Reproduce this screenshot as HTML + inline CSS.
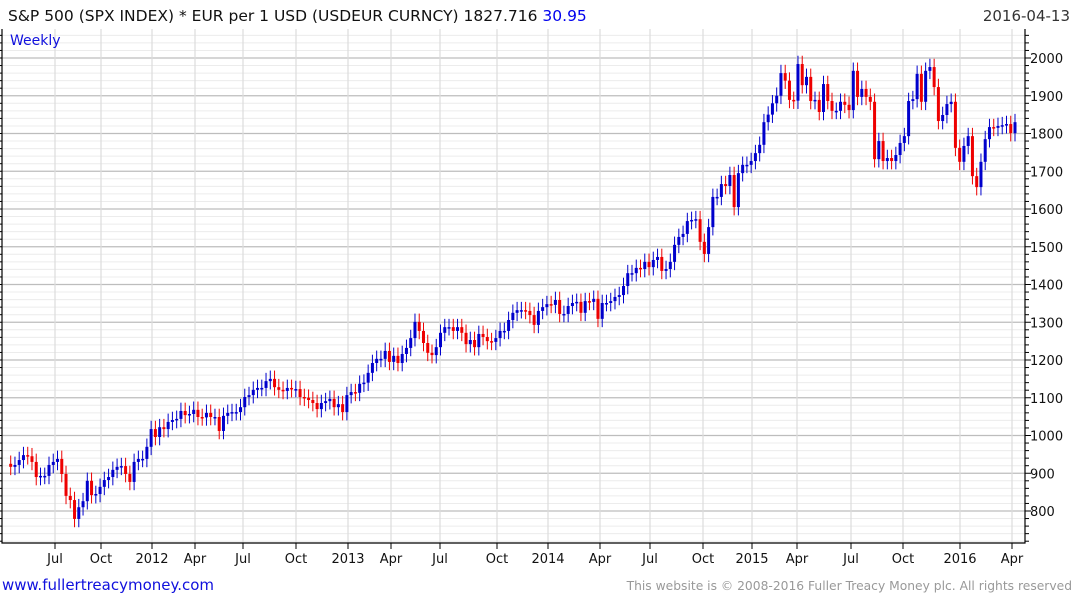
<!DOCTYPE html>
<html><head><meta charset="utf-8">
<style>
html,body{margin:0;padding:0;background:#fff;}
body{width:1075px;height:600px;overflow:hidden;font-family:"DejaVu Sans","Liberation Sans",sans-serif;}
svg text{font-family:"DejaVu Sans","Liberation Sans",sans-serif;}
</style></head>
<body>
<svg id="chart" width="1075" height="600" viewBox="0 0 1075 600" xmlns="http://www.w3.org/2000/svg">
<rect x="0" y="0" width="1075" height="600" fill="#fff"/>
<g id="grid"></g>
<g id="candles"></g>
<g id="axes"></g>
<text x="8" y="21" font-size="15.5" fill="#111">S&amp;P 500 (SPX INDEX) * EUR per 1 USD (USDEUR CURNCY) 1827.716 <tspan fill="#0000ee">30.95</tspan></text>
<text x="1070" y="21" font-size="15" fill="#333" text-anchor="end">2016-04-13</text>
<text x="10" y="45" font-size="14" fill="#1010dd">Weekly</text>
<text x="2" y="590" font-size="15" fill="#1010dd">www.fullertreacymoney.com</text>
<text x="1072" y="590" font-size="12.3" fill="#999" text-anchor="end">This website is © 2008-2016 Fuller Treacy Money plc. All rights reserved</text>
</svg>
<script>
const closes = [917,922,935,948,945,930,890,893,893,922,930,938,898,840,829,779,810,826,880,842,845,864,882,890,909,917,919,898,877,930,938,938,970,1017,996,1022,1017,1036,1041,1044,1065,1054,1057,1068,1049,
1048,1060,1049,1049,1012,1052,1060,1062,1062,1075,1102,1107,1121,1126,1126,1144,1150,1128,1121,1118,1126,1123,1123,1102,1100,1094,1086,1070,1086,1091,1097,1075,1083,1062,1107,1115,1113,1137,1140,1166,1192,1203,1203,1224,1195,
1211,1192,1216,1232,1258,1301,1277,1245,1219,1213,1234,1272,1287,1287,1277,1287,1272,1242,1253,1234,1269,1261,1250,1248,1258,1277,1277,1306,1325,1332,1332,1330,1319,1293,1330,1340,1348,1346,1359,1322,1322,1343,1351,1354,1325,1356,1354,1362,1309,1351,1351,1356,1367,1372,
1396,1430,1430,1444,1441,1460,1446,1465,1473,1436,1441,1460,1505,1526,1534,1568,1571,1573,1513,1481,1552,1632,1632,1666,1661,1690,1605,1695,1717,1717,1727,1748,1770,
1830,1850,1880,1900,1960,1940,
1889,1887,1984,1928,1950,1886,1889,1857,1931,1886,1860,1860,1884,1876,1862,1966,1897,1918,1897,1884,1732,1780,1727,1735,1727,1743,1775,1793,1886,1891,1958,1884,1966,1976,1923,1833,1849,1878,1884,1762,1725,1767,1793,1687,1658,1725,1785,1817,1815,1820,1822,1825,1801,1830];
const firstOpen = 925;
const yTicks = [800,900,1000,1100,1200,1300,1400,1500,1600,1700,1800,1900,2000];
const xLabels = ["Jul","Oct","2012","Apr","Jul","Oct","2013","Apr","Jul","Oct","2014","Apr","Jul","Oct","2015","Apr","Jul","Oct","2016","Apr"];
const xLabelPos = [55,101,152,195,243,296,348,391,440,497,548,600,650,703,752,797,851,903,960,1012];

const NS="http://www.w3.org/2000/svg";
const L=2,R=1025,T=29,B=543;
function y(v){return 58+(2000-v)*0.3775;}
function x(i){return 10.7+i*(1015-10.7)/(closes.length-1);}
function mk(tag,attrs,parent){const e=document.createElementNS(NS,tag);for(const k in attrs)e.setAttribute(k,attrs[k]);parent.appendChild(e);return e;}
const grid=document.getElementById('grid'),cg=document.getElementById('candles'),ax=document.getElementById('axes');
for(let v=720;v<=2060;v+=20){const yy=y(v);if(yy<T||yy>B)continue;
 const ln=mk('line',{x1:L,x2:R,y1:yy,y2:yy,stroke:(v%100===0)?'#bdbdbd':'#ececec','stroke-width':(v%100===0)?1.3:1},grid);
 
 
}
xLabelPos.forEach((px,i)=>{
 const ln=mk('line',{x1:px,x2:px,y1:T,y2:B,stroke:'#dcdcdc','stroke-width':1.2},grid);
 
 
 const tk=mk('line',{x1:px,x2:px,y1:B,y2:B+6,stroke:'#000','stroke-width':1},ax);
 
 
 const t=mk('text',{x:px,y:563,'font-size':13,'text-anchor':'middle',fill:'#111'},ax);
 t.textContent=xLabels[i];
 
 
});
let prev=firstOpen;
closes.forEach((c,i)=>{
 const o=prev;prev=c;
 const up=c>=o, col=up?'#0000cc':'#ee0000';
 const hi=Math.max(o,c)+22, lo=Math.min(o,c)-22;
 const cx=x(i);
 const w=mk('line',{x1:cx,x2:cx,y1:y(hi),y2:y(lo),stroke:col,'stroke-width':1},cg);
 
 
 const top=y(Math.max(o,c)),bot=y(Math.min(o,c));
 const b=mk('rect',{x:cx-1.5,y:top,width:3,height:Math.max(1.5,bot-top),fill:col},cg);
 
 
});
const fr=mk('path',{d:`M${L} ${T} V${B} H${R} V${T}`,fill:'none',stroke:'#000','stroke-width':1.2},ax);


for(let v=720;v<=2060;v+=20){const yy=y(v);if(yy<T||yy>B)continue;
 const tk=mk('line',{x1:R,x2:R+(v%100===0?6:4),y1:yy,y2:yy,stroke:'#000','stroke-width':1},ax);
 
 
 const tl=mk('line',{x1:L-2,x2:L,y1:yy,y2:yy,stroke:'#000','stroke-width':1},ax);
 
 
}
yTicks.forEach(v=>{
 const t=mk('text',{x:1030,y:y(v)+5,'font-size':13,fill:'#111'},ax);
 t.textContent=v;
 
 
});
</script>
</body></html>
